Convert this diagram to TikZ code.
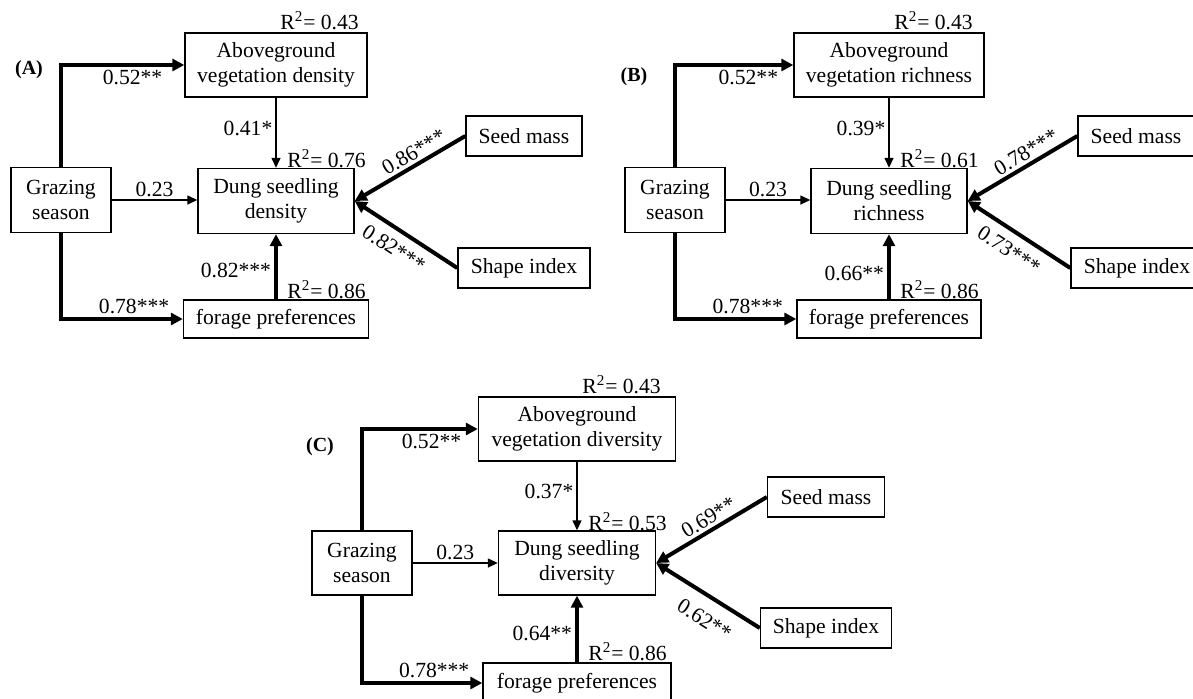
\documentclass[tikz,border=0pt]{standalone}
\usepackage{fontspec}
\setmainfont{Liberation Serif}
\usetikzlibrary{arrows.meta}

\tikzset{
  box/.style={draw, line width=0.7pt, inner sep=0pt, align=center, font=\fontsize{10.8}{12.5}\selectfont},
  coef/.style={inner sep=1.5pt, font=\fontsize{10.8}{12.5}\selectfont},
  rsq/.style={anchor=base west, inner sep=0pt, font=\fontsize{10.8}{12.5}\selectfont},
  tag/.style={inner sep=0pt, font=\fontsize{10}{12}\selectfont\bfseries},
  weakpath/.style={line width=0.7pt, -{Triangle[length=5pt,width=4.5pt]}},
  strongpath/.style={line width=2pt, -{Triangle[length=6pt,width=6pt]}},
}

\begin{document}
\begin{tikzpicture}[x=0.5pt,y=-0.5pt]
\clip (0,0) rectangle (1193,698);
%% Panel (A)
  % Node: Aboveground vegetation density
  \node[box, minimum width=91pt, minimum height=32pt] (abvA) at (276,65) {Aboveground\\vegetation density};
  % Node: Grazing season
  \node[box, minimum width=50pt, minimum height=32.5pt] (grazA) at (61,200) {Grazing\\season};
  % Node: Dung seedling density
  \node[box, minimum width=78pt, minimum height=32.5pt] (dungA) at (276,201) {Dung seedling\\density};
  % Node: forage preferences
  \node[box, minimum width=92.5pt, minimum height=19pt] (forA) at (276,319) {forage preferences};
  % Node: Seed mass
  \node[box, minimum width=58pt, minimum height=20pt] (seedA) at (524,136) {Seed mass};
  % Node: Shape index
  \node[box, minimum width=66pt, minimum height=20pt] (shapeA) at (524,268) {Shape index};
  \node[tag] (tagA) at (29,70) {(A)};
  \node[rsq] (rA1) at (280,29) {R\textsuperscript{2}= 0.43};
  \node[rsq] (rA2) at (287,167) {R\textsuperscript{2}= 0.76};
  \node[rsq] (rA3) at (287,298) {R\textsuperscript{2}= 0.86};
  % Edge: Grazing season -> Aboveground
  \draw[strongpath] (grazA.north) |- node[coef, pos=0.79, below] {0.52**} (abvA.west);
  % Edge: Grazing season -> forage preferences
  \draw[strongpath] (grazA.south) |- node[coef, pos=0.8, above] {0.78***} (forA.west);
  % Edge: Grazing season -> Dung seedling
  \draw[weakpath] (grazA.east) -- node[coef, above] {0.23} (grazA.east -| dungA.west);
  % Edge: Aboveground -> Dung seedling
  \draw[weakpath] (abvA) -- node[coef, pos=0.44, left] {0.41*} (dungA);
  % Edge: forage preferences -> Dung seedling
  \draw[strongpath] (forA) -- node[coef, pos=0.44, left] {0.82***} (dungA);
  % Edge: Seed mass -> Dung seedling
  \draw[strongpath] (seedA.west) -- node[coef, sloped, pos=0.41, above] {0.86***} (dungA.east);
  % Edge: Shape index -> Dung seedling
  \draw[strongpath] (shapeA.west) -- node[coef, sloped, pos=0.52, below=3pt] {0.82***} (dungA.east);
%% Panel (B)
  % Node: Aboveground vegetation richness
  \node[box, minimum width=95pt, minimum height=32pt] (abvB) at (889,65) {Aboveground\\vegetation richness};
  % Node: Grazing season
  \node[box, minimum width=50pt, minimum height=32.5pt] (grazB) at (675,200) {Grazing\\season};
  % Node: Dung seedling richness
  \node[box, minimum width=78pt, minimum height=32.5pt] (dungB) at (889,201) {Dung seedling\\richness};
  % Node: forage preferences
  \node[box, minimum width=92pt, minimum height=19pt] (forB) at (889,319) {forage preferences};
  % Node: Seed mass
  \node[box, minimum width=58pt, minimum height=20pt] (seedB) at (1136,136) {Seed mass};
  % Node: Shape index
  \node[box, minimum width=66pt, minimum height=20pt] (shapeB) at (1137,268) {Shape index};
  \node[tag] (tagB) at (634,77) {(B)};
  \node[rsq] (rB1) at (894,29) {R\textsuperscript{2}= 0.43};
  \node[rsq] (rB2) at (900,167) {R\textsuperscript{2}= 0.61};
  \node[rsq] (rB3) at (900,298) {R\textsuperscript{2}= 0.86};
  % Edge: Grazing season -> Aboveground
  \draw[strongpath] (grazB.north) |- node[coef, pos=0.81, below] {0.52**} (abvB.west);
  % Edge: Grazing season -> forage preferences
  \draw[strongpath] (grazB.south) |- node[coef, pos=0.8, above] {0.78***} (forB.west);
  % Edge: Grazing season -> Dung seedling
  \draw[weakpath] (grazB.east) -- node[coef, above] {0.23} (grazB.east -| dungB.west);
  % Edge: Aboveground -> Dung seedling
  \draw[weakpath] (abvB) -- node[coef, pos=0.44, left] {0.39*} (dungB);
  % Edge: forage preferences -> Dung seedling
  \draw[strongpath] (forB) -- node[coef, pos=0.4, left] {0.66**} (dungB);
  % Edge: Seed mass -> Dung seedling
  \draw[strongpath] (seedB.west) -- node[coef, sloped, pos=0.41, above] {0.78***} (dungB.east);
  % Edge: Shape index -> Dung seedling
  \draw[strongpath] (shapeB.west) -- node[coef, sloped, pos=0.5, below=3pt] {0.73***} (dungB.east);
%% Panel (C)
  % Node: Aboveground vegetation diversity
  \node[box, minimum width=98.5pt, minimum height=32pt] (abvC) at (577,429) {Aboveground\\vegetation diversity};
  % Node: Grazing season
  \node[box, minimum width=50pt, minimum height=32pt] (grazC) at (362,563) {Grazing\\season};
  % Node: Dung seedling diversity
  \node[box, minimum width=78.5pt, minimum height=32pt] (dungC) at (577,563) {Dung seedling\\diversity};
  % Node: forage preferences
  \node[box, minimum width=94pt, minimum height=20pt] (forC) at (577,683) {forage preferences};
  % Node: Seed mass
  \node[box, minimum width=58.5pt, minimum height=20pt] (seedC) at (826,497) {Seed mass};
  % Node: Shape index
  \node[box, minimum width=65.5pt, minimum height=20pt] (shapeC) at (826,628) {Shape index};
  \node[tag] (tagC) at (320,447) {(C)};
  \node[rsq] (rC1) at (582,393) {R\textsuperscript{2}= 0.43};
  \node[rsq] (rC2) at (588,530) {R\textsuperscript{2}= 0.53};
  \node[rsq] (rC3) at (588,660) {R\textsuperscript{2}= 0.86};
  % Edge: Grazing season -> Aboveground
  \draw[strongpath] (grazC.north) |- node[coef, pos=0.8, below] {0.52**} (abvC.west);
  % Edge: Grazing season -> forage preferences
  \draw[strongpath] (grazC.south) |- node[coef, pos=0.8, above] {0.78***} (forC.west);
  % Edge: Grazing season -> Dung seedling
  \draw[weakpath] (grazC.east) -- node[coef, above] {0.23} (grazC.east -| dungC.west);
  % Edge: Aboveground -> Dung seedling
  \draw[weakpath] (abvC) -- node[coef, pos=0.43, left] {0.37*} (dungC);
  % Edge: forage preferences -> Dung seedling
  \draw[strongpath] (forC) -- node[coef, pos=0.44, left] {0.64**} (dungC);
  % Edge: Seed mass -> Dung seedling
  \draw[strongpath] (seedC.west) -- node[coef, sloped, pos=0.47, above] {0.69**} (dungC.east);
  % Edge: Shape index -> Dung seedling
  \draw[strongpath] (shapeC.west) -- node[coef, sloped, pos=0.42, below=5pt] {0.62**} (dungC.east);
\end{tikzpicture}
\end{document}
